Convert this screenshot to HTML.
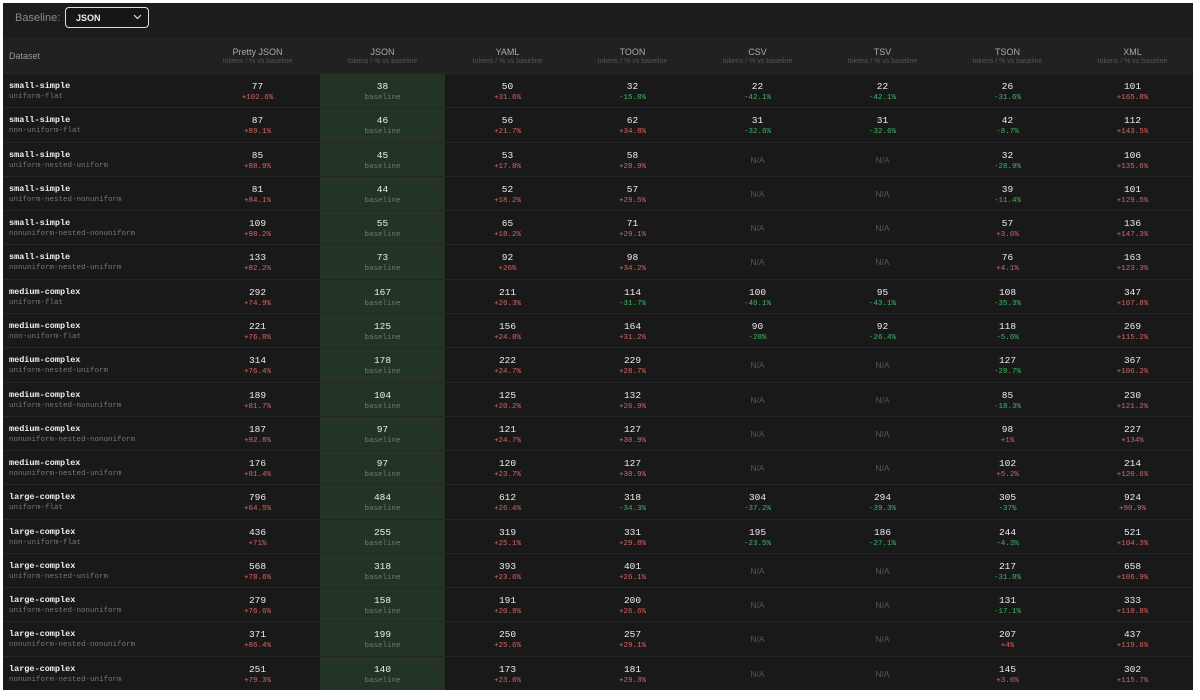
<!DOCTYPE html>
<html><head><meta charset="utf-8">
<style>
body{margin:0;background:#fff;width:1200px;height:700px;overflow:hidden;font-family:"Liberation Mono",monospace}
#panel{position:absolute;left:3px;top:3px;width:1190px;height:687px;background:#191919}
#topbar{position:absolute;left:0;top:0;width:1190px;height:35px;background:#1c1c1c}
#lbl{position:absolute;left:12px;top:9px;font:11px "Liberation Sans",sans-serif;color:#8a8a8a}
#sel{position:absolute;left:62px;top:4px;width:84px;height:21px;border:1.5px solid #ddd;border-radius:4px;background:#161616;color:#eee;font:bold 9px "Liberation Sans",sans-serif;box-sizing:border-box;padding:5px 0 0 10px}
#sel svg{position:absolute;right:6px;top:6px}
#head{position:absolute;left:0;top:35px;width:1190px;height:35px;background:#212121}
.hc{position:absolute;top:0;height:35px;text-align:center;font-family:"Liberation Sans",sans-serif}
.hc b{display:block;margin-top:9px;font-size:9px;color:#aaa;font-weight:normal}
.hc i{display:block;font-style:normal;font-size:7px;color:#555;margin-top:1px}
#hl{position:absolute;left:317px;top:70px;width:125px;height:617px;background:#243424}
.row{position:absolute;left:0;width:1190px;height:34.3px;border-top:1px solid #262626;box-sizing:border-box}
.ds{position:absolute;left:6px;top:7px}
.ds b{display:block;font-size:8.5px;color:#f0f0f0}
.ds i{display:block;font-style:normal;font-size:7.5px;color:#777;margin-top:2px}
.c{position:absolute;top:7px;width:125px;text-align:center}
.c b{display:block;font-size:9.5px;color:#eee;font-weight:normal}
.c i{display:block;font-style:normal;font-size:7.5px;margin-top:2px}
.na{position:absolute;top:12px;width:125px;text-align:center;font-size:8.5px;color:#555;font-family:"Liberation Sans",sans-serif}
</style></head><body>
<div id="panel">
<div id="topbar">
<span id="lbl">Baseline:</span>
<div id="sel">JSON<svg width="9" height="6"><path d="M1 1 L4.5 4.5 L8 1" stroke="#ddd" fill="none" stroke-width="1.2"/></svg></div>
</div>
<div id="head"></div>
<div id="hl"></div>
<div id="body"></div>
</div>
<script>
const formats=["Pretty JSON","JSON","YAML","TOON","CSV","TSV","TSON","XML"];
const datasets=["small-simple","small-simple","small-simple","small-simple","small-simple","small-simple","medium-complex","medium-complex","medium-complex","medium-complex","medium-complex","medium-complex","large-complex","large-complex","large-complex","large-complex","large-complex","large-complex"];
const shapes=["uniform-flat","non-uniform-flat","uniform-nested-uniform","uniform-nested-nonuniform","nonuniform-nested-nonuniform","nonuniform-nested-uniform","uniform-flat","non-uniform-flat","uniform-nested-uniform","uniform-nested-nonuniform","nonuniform-nested-nonuniform","nonuniform-nested-uniform","uniform-flat","non-uniform-flat","uniform-nested-uniform","uniform-nested-nonuniform","nonuniform-nested-nonuniform","nonuniform-nested-uniform"];
const tokens=[
[77,38,50,32,22,22,26,101],[87,46,56,62,31,31,42,112],[85,45,53,58,null,null,32,106],[81,44,52,57,null,null,39,101],
[109,55,65,71,null,null,57,136],[133,73,92,98,null,null,76,163],[292,167,211,114,100,95,108,347],[221,125,156,164,90,92,118,269],
[314,178,222,229,null,null,127,367],[189,104,125,132,null,null,85,230],[187,97,121,127,null,null,98,227],[176,97,120,127,null,null,102,214],
[796,484,612,318,304,294,305,924],[436,255,319,331,195,186,244,521],[568,318,393,401,null,null,217,658],[279,158,191,200,null,null,131,333],
[371,199,250,257,null,null,207,437],[251,140,173,181,null,null,145,302]];
const pcts=[
["+102.6%","baseline","+31.6%","-15.8%","-42.1%","-42.1%","-31.6%","+165.8%"],
["+89.1%","baseline","+21.7%","+34.8%","-32.6%","-32.6%","-8.7%","+143.5%"],
["+88.9%","baseline","+17.8%","+28.9%","","","-28.9%","+135.6%"],
["+84.1%","baseline","+18.2%","+29.5%","","","-11.4%","+129.5%"],
["+98.2%","baseline","+18.2%","+29.1%","","","+3.6%","+147.3%"],
["+82.2%","baseline","+26%","+34.2%","","","+4.1%","+123.3%"],
["+74.9%","baseline","+26.3%","-31.7%","-40.1%","-43.1%","-35.3%","+107.8%"],
["+76.8%","baseline","+24.8%","+31.2%","-28%","-26.4%","-5.6%","+115.2%"],
["+76.4%","baseline","+24.7%","+28.7%","","","-28.7%","+106.2%"],
["+81.7%","baseline","+20.2%","+26.9%","","","-18.3%","+121.2%"],
["+92.8%","baseline","+24.7%","+30.9%","","","+1%","+134%"],
["+81.4%","baseline","+23.7%","+30.9%","","","+5.2%","+120.6%"],
["+64.5%","baseline","+26.4%","-34.3%","-37.2%","-39.3%","-37%","+90.9%"],
["+71%","baseline","+25.1%","+29.8%","-23.5%","-27.1%","-4.3%","+104.3%"],
["+78.6%","baseline","+23.6%","+26.1%","","","-31.8%","+106.9%"],
["+76.6%","baseline","+20.9%","+26.6%","","","-17.1%","+110.8%"],
["+86.4%","baseline","+25.6%","+29.1%","","","+4%","+119.6%"],
["+79.3%","baseline","+23.6%","+29.3%","","","+3.6%","+115.7%"]];
const colX=c=>192+c*125;
const rowY=r=>70+r*34.28;
const head=document.getElementById('head');
let d=document.createElement('div');d.className='hc';d.style.left='6px';d.style.textAlign='left';


d.innerHTML='<b style="margin-top:13px;color:#999">Dataset</b>';head.appendChild(d);
formats.forEach((f,i)=>{const h=document.createElement('div');h.className='hc';h.style.left=colX(i)+'px';h.style.width='125px';


h.innerHTML='<b>'+f+'</b><i>tokens / % vs baseline</i>';head.appendChild(h);});
const body=document.getElementById('body');
datasets.forEach((ds,r)=>{const row=document.createElement('div');row.className='row';row.style.top=rowY(r)+'px';


let h='<div class="ds"><b>'+ds+'</b><i>'+shapes[r]+'</i></div>';
tokens[r].forEach((t,c)=>{
 if(t===null){h+='<div class="na" style="left:'+colX(c)+'px">N/A</div>';return;}
 const p=pcts[r][c];const col=p==='baseline'?'#6f7a6f':(p[0]==='-'?'#3fb865':'#d96464');
 h+='<div class="c" style="left:'+colX(c)+'px"><b>'+t+'</b><i style="color:'+col+'">'+p+'</i></div>';});
row.innerHTML=h;body.appendChild(row);});
</script>
</body></html>
